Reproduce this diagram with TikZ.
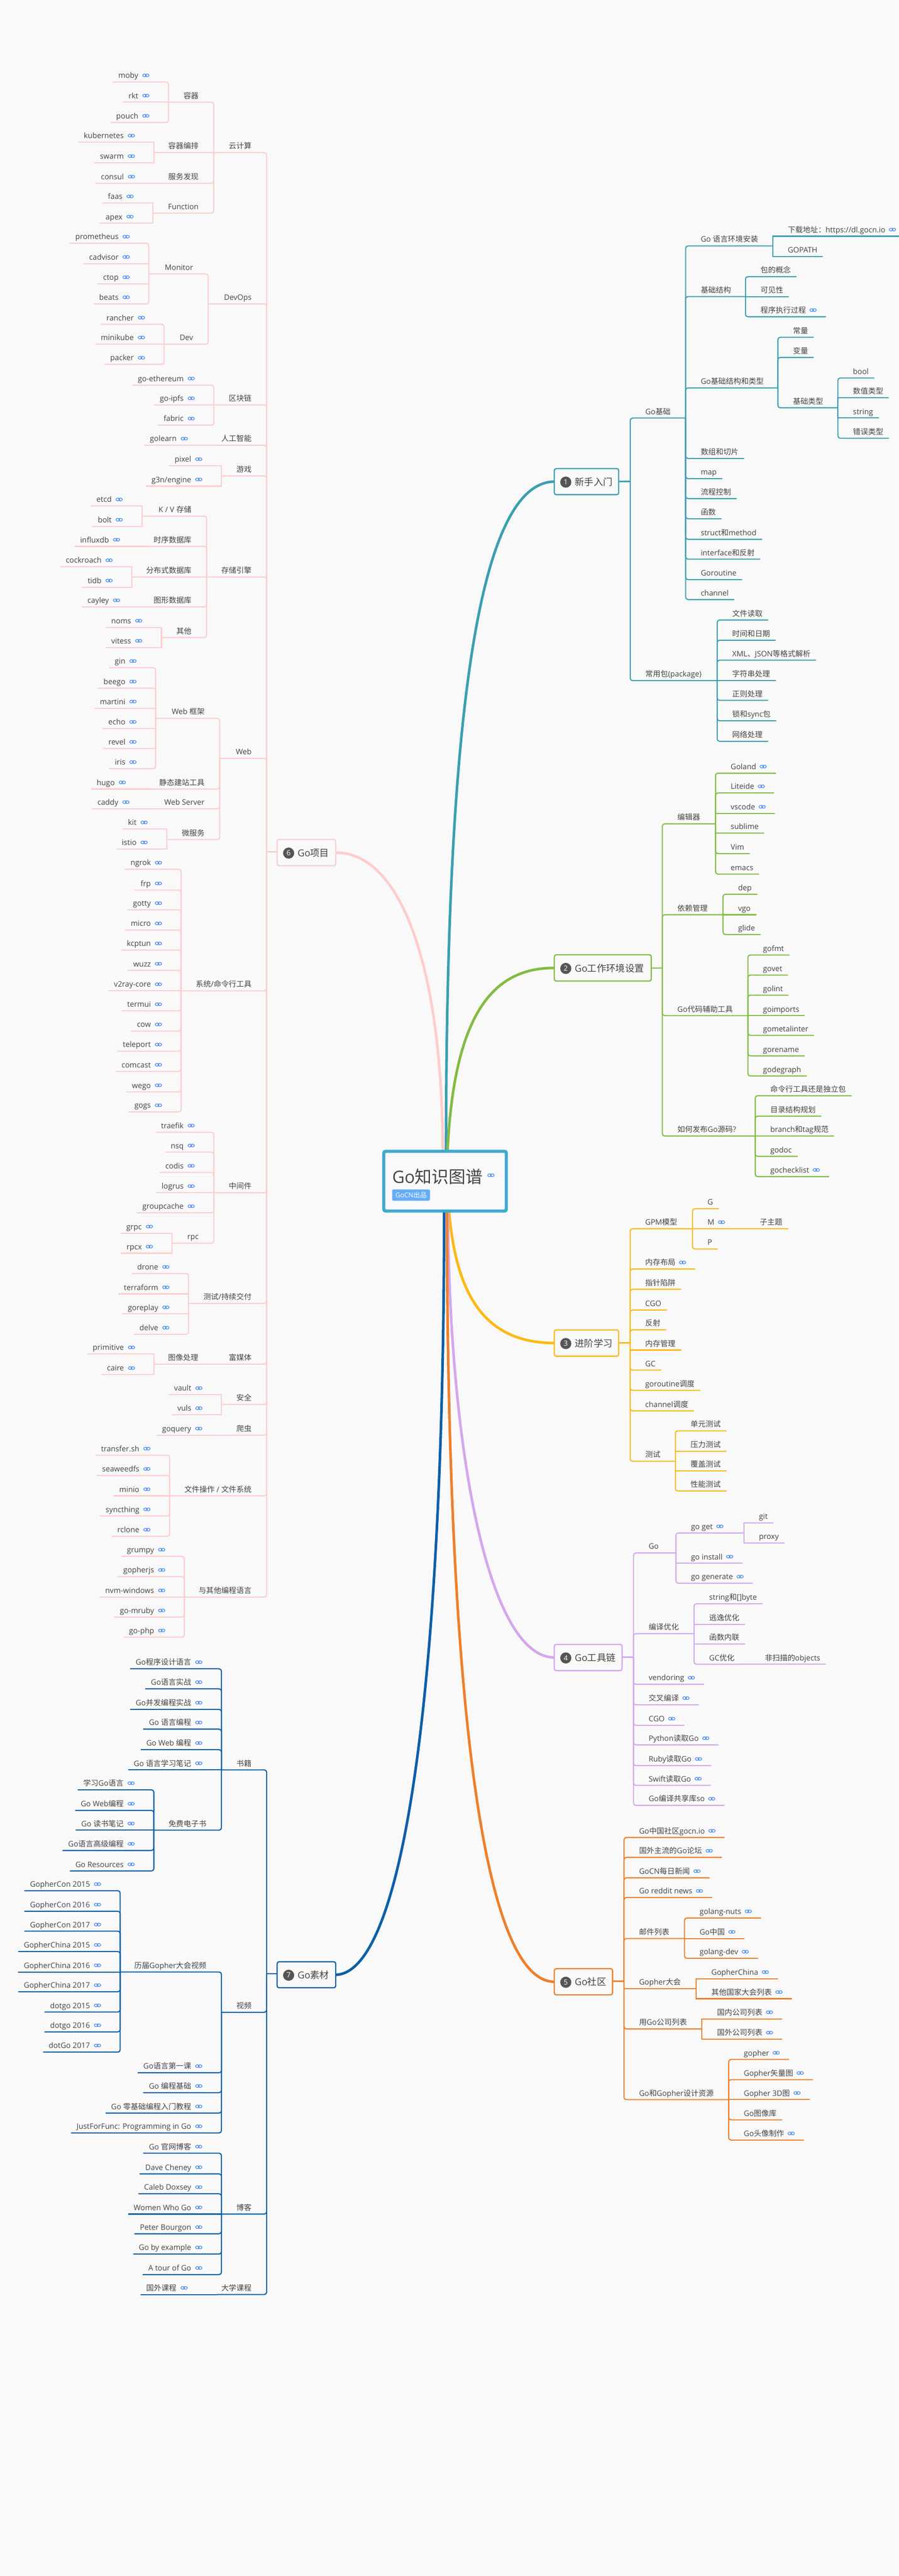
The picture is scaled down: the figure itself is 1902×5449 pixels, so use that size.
\documentclass[tikz,border=0pt]{standalone}
\usepackage{fontspec}
\usetikzlibrary{calc}
\setmainfont{Open Sans}
\newfontfamily\cjk{Noto Sans CJK SC}
\XeTeXinterchartokenstate=1
\newXeTeXintercharclass\cjkcls
\newcount\mmc
\mmc="3000 \loop\XeTeXcharclass\mmc=\cjkcls \ifnum\mmc<"9FFF \advance\mmc 1 \repeat
\mmc="FF00 \loop\XeTeXcharclass\mmc=\cjkcls \ifnum\mmc<"FFEF \advance\mmc 1 \repeat
\XeTeXinterchartoks 0 \cjkcls = {\begingroup\cjk}
\XeTeXinterchartoks 4095 \cjkcls = {\begingroup\cjk}
\XeTeXinterchartoks \cjkcls 0 = {\endgroup}
\XeTeXinterchartoks \cjkcls 4095 = {\endgroup}
\definecolor{bgc}{HTML}{F9F9F9}
\definecolor{txtc}{HTML}{444444}
\definecolor{linkc}{HTML}{3D85F5}
\definecolor{rootc}{HTML}{3FA9CE}
\definecolor{badgec}{HTML}{66ADF7}
\definecolor{numc}{HTML}{555555}
\definecolor{ca}{HTML}{3A9FB0}
\definecolor{cb}{HTML}{82BC42}
\definecolor{cc}{HTML}{FDB813}
\definecolor{cd}{HTML}{D5A6EE}
\definecolor{ce}{HTML}{EE7F2A}
\definecolor{cf}{HTML}{FFCCCC}
\definecolor{cg}{HTML}{0B5FA8}
\colorlet{tc}{ca}
\pgfdeclarelayer{bg}
\pgfsetlayers{bg,main}
\tikzset{
  lab/.style={text=txtc,inner sep=0pt,outer sep=0pt,font=\fontsize{16}{20}\selectfont},
  branch/.style={draw=tc,line width=2.3pt},
  stub/.style={draw=tc,line width=3pt},
  mainedge/.style={line width=5.5pt},
  topicbox/.style={draw=tc,fill=bgc,line width=2.5pt,rounded corners=4pt,inner sep=0pt,outer sep=0pt},
  numdot/.style={circle,fill=numc,text=white,inner sep=0pt,minimum size=23.5pt,font=\fontsize{15}{18}\selectfont},
  toptext/.style={text=txtc,inner sep=0pt,font=\fontsize{20}{24}\selectfont},
  linkloop/.style={draw=linkc,line width=1.25pt},
}
% link icon
\newcommand\Icon[2]{\draw[linkloop] (#1-2.9,#2) ellipse (3.9pt and 3pt);\draw[linkloop] (#1+2.9,#2) ellipse (3.9pt and 3pt);}
% connector
\newcommand\mmEdge[3]{%
  \pgfmathsetmacro\mmdy{abs(#3-\csname Y@#1\endcsname)}%
  \ifdim\mmdy pt<25pt \draw[branch] (#1-bus) |- (#2-end);%
  \else \draw[branch,rounded corners=5pt] (#1-bus) |- (#2-end);\fi}
\newcommand\mmR[5]{% off id parent y text
  \pgfmathsetmacro\mmx{\csname X@#3\endcsname+#1}\pgfmathsetmacro\mmy{#4-8}%
  \node[lab,anchor=base west] (#2) at (\mmx,\mmy) {#5};%
  \expandafter\xdef\csname Y@#2\endcsname{#4}}
\newcommand\mmB[3]{\coordinate (#1-bus) at (#3,#2);\coordinate (#1-end) at (#3,#2);\expandafter\xdef\csname X@#1\endcsname{#3}}
% right: branch, branch+link, leaf, leaf+link
\newcommand\Rb[6][32]{\mmR{#1}{#2}{#3}{#4}{#6}\mmB{#2}{#4}{#5}\mmEdge{#3}{#2}{#4}}
\newcommand\Rbk[6][32]{\mmR{#1}{#2}{#3}{#4}{#6}\mmB{#2}{#4}{#5}\mmEdge{#3}{#2}{#4}%
  \path let \p1=(#2.base east) in \pgfextra{\pgfmathsetmacro\mmx{\x1/1pt+15}\pgfmathsetmacro\mmy{#4-14}};\mmIconR{#2}{#4}}
\newcommand\mmIconR[2]{\coordinate (#1-ic) at ($(#1.base east)+(15,0)$);%
  \path let \p1=(#1-ic) in \pgfextra{\pgfmathsetmacro\mmx{\x1/1pt}\pgfmathsetmacro\mmy{#2-14}\global\let\mmgx\mmx\global\let\mmgy\mmy};\Icon{\mmgx}{\mmgy}}
\newcommand\Rl[5][32]{\mmR{#1}{#2}{#3}{#4}{#5}\coordinate (#2-end) at ($(#2.base east)+(12,8)$);\mmEdge{#3}{#2}{#4}}
\newcommand\Rk[5][32]{\mmR{#1}{#2}{#3}{#4}{#5}\coordinate (#2-end) at ($(#2.base east)+(42,8)$);\mmEdge{#3}{#2}{#4}\mmIconR{#2}{#4}}
% left: branch, leaf+link
\newcommand\Lb[6][32]{\pgfmathsetmacro\mmx{\csname X@#3\endcsname-#1}\pgfmathsetmacro\mmy{#4-8}%
  \node[lab,anchor=base east] (#2) at (\mmx,\mmy) {#6};\expandafter\xdef\csname Y@#2\endcsname{#4}%
  \mmB{#2}{#4}{#5}\mmEdge{#3}{#2}{#4}}
\newcommand\Lk[5][32]{\pgfmathsetmacro\mmx{\csname X@#3\endcsname-#1-32}\pgfmathsetmacro\mmy{#4-8}%
  \node[lab,anchor=base east] (#2) at (\mmx,\mmy) {#5};\expandafter\xdef\csname Y@#2\endcsname{#4}%
  \coordinate (#2-end) at ($(#2.base west)+(-12,8)$);\mmEdge{#3}{#2}{#4}%
  \pgfmathsetmacro\mmx{\csname X@#3\endcsname-#1-16}\pgfmathsetmacro\mmy{#4-14}\Icon{\mmx}{\mmy}}
% topic
\newcommand\Topic[7]{% id x1 y1 x2 y2 n text
  \pgfmathsetmacro\mmw{#4-#2-2.5}\pgfmathsetmacro\mmh{#5-#3-2.5}%
  \pgfmathsetmacro\mmx{(#2+#4)/2}\pgfmathsetmacro\mmy{(#3+#5)/2}%
  \node[topicbox,minimum width=\mmw pt,minimum height=\mmh pt] (#1) at (\mmx,\mmy) {};%
  \pgfmathsetmacro\mma{#2+25.5}\pgfmathsetmacro\mmb{\mmy+1}%
  \node[numdot] (#1-num) at (\mma,\mmb) {#6};%
  \pgfmathsetmacro\mma{#2+44.5}\pgfmathsetmacro\mmb{\mmy+8}%
  \node[toptext,anchor=base west] (#1-txt) at (\mma,\mmb) {#7};}
\newcommand\TopicBus[4]{% id side bus y
  \coordinate (#1-bus) at (#3,#4);\expandafter\xdef\csname X@#1\endcsname{#3}\expandafter\xdef\csname Y@#1\endcsname{#4}%
  \draw[stub] (#1.#2 |- #1-bus) -- (#1-bus);}
\begin{document}
\begin{tikzpicture}[x=1pt,y=-1pt]
\useasboundingbox (0,0) rectangle (1902,5449);
% root
\node[draw=rootc,fill=bgc,line width=6.7pt,rounded corners=4pt,minimum width=259.4pt,minimum height=126.4pt,inner sep=0pt] (root) at (942,2498.5) {};
\node[inner sep=0pt,anchor=base west,text=txtc,font=\fontsize{36}{42}\selectfont] (roottxt) at (830,2503) {Go知识图谱};
\Icon{1039}{2486}
\node[fill=badgec,rounded corners=3pt,text=white,inner sep=0pt,minimum width=80pt,minimum height=24pt,font=\fontsize{14}{17}\selectfont] (badge) at (870,2528) {GoCN出品};
% ---- 1
\colorlet{tc}{ca}
\Topic{ta}{1172}{990}{1310.7}{1047.6}{1}{新手入门}
\TopicBus{ta}{east}{1334}{1018}
\Rb{a1}{ta}{884.3}{1451.2}{Go基础}
\Rb{a11}{a1}{520.2}{1635.4}{Go 语言环境安装}
\Rk{a111}{a11}{499.7}{下载地址：https://dl.gocn.io}
\Rl{a112}{a11}{542.5}{GOPATH}
\Rb{a12}{a1}{627.3}{1577.8}{基础结构}
\Rl{a121}{a12}{585.2}{包的概念}
\Rl{a122}{a12}{627.3}{可见性}
\Rk{a123}{a12}{670}{程序执行过程}
\Rb{a13}{a1}{820.5}{1646.4}{Go基础结构和类型}
\Rl{a131}{a13}{713.4}{常量}
\Rl{a132}{a13}{756.1}{变量}
\Rb{a133}{a13}{862.6}{1773.5}{基础类型}
\Rl{a1331}{a133}{799.5}{bool}
\Rl{a1332}{a133}{841.6}{数值类型}
\Rl{a1333}{a133}{884.3}{string}
\Rl{a1334}{a133}{927}{错误类型}
\Rl{a14}{a1}{969.8}{数组和切片}
\Rl{a15}{a1}{1012.5}{map}
\Rl{a16}{a1}{1054.6}{流程控制}
\Rl{a17}{a1}{1097.3}{函数}
\Rl{a18}{a1}{1140.7}{struct和method}
\Rl{a19}{a1}{1182.8}{interface和反射}
\Rl{a1a}{a1}{1226.1}{Goroutine}
\Rl{a1b}{a1}{1268.2}{channel}
\Rb{a2}{ta}{1439.8}{1517.9}{常用包(package)}
\Rl{a21}{a2}{1311.6}{文件读取}
\Rl{a22}{a2}{1354.3}{时间和日期}
\Rl{a23}{a2}{1396.4}{XML、JSON等格式解析}
\Rl{a24}{a2}{1439.8}{字符串处理}
\Rl{a25}{a2}{1481.4}{正则处理}
\Rl{a26}{a2}{1524.7}{锁和sync包}
\Rl{a27}{a2}{1568}{网络处理}
% ---- 2
\colorlet{tc}{cb}
\Topic{tb}{1172}{2018.5}{1379.7}{2076.5}{2}{Go工作环境设置}
\TopicBus{tb}{east}{1401.8}{2047.8}
\Rb{b1}{tb}{1742.6}{1514.5}{编辑器}
\Rk{b11}{b1}{1635.5}{Goland}
\Rk{b12}{b1}{1677.3}{Liteide}
\Rk{b13}{b1}{1720.6}{vscode}
\Rl{b14}{b1}{1762.4}{sublime}
\Rl{b15}{b1}{1805.7}{Vim}
\Rl{b16}{b1}{1849}{emacs}
\Rb{b2}{tb}{1934.9}{1530.3}{依赖管理}
\Rl{b21}{b2}{1891.6}{dep}
\Rl{b22}{b2}{1934.9}{vgo}
\Rl{b23}{b2}{1976.7}{glide}
\Rb{b3}{tb}{2148.4}{1583}{Go代码辅助工具}
\Rl{b31}{b3}{2020}{gofmt}
\Rl{b32}{b3}{2062.5}{govet}
\Rl{b33}{b3}{2105}{golint}
\Rl{b34}{b3}{2148.4}{goimports}
\Rl{b35}{b3}{2190}{gometalinter}
\Rl{b36}{b3}{2233.5}{gorename}
\Rl{b37}{b3}{2276}{godegraph}
\Rb{b4}{tb}{2403}{1598.4}{如何发布Go源码?}
\Rl{b41}{b4}{2317.8}{命令行工具还是独立包}
\Rl{b42}{b4}{2361}{目录结构规划}
\Rl{b43}{b4}{2403}{branch和tag规范}
\Rl{b44}{b4}{2446}{godoc}
\Rk{b45}{b4}{2488.8}{gochecklist}
% ---- 3
\colorlet{tc}{cc}
\Topic{tcc}{1172}{2812}{1310.7}{2870}{3}{进阶学习}
\TopicBus{tcc}{east}{1333.7}{2840.5}
\Rb{c1}{tcc}{2599.2}{1465.6}{GPM模型}
\Rl{c11}{c1}{2556.8}{G}
\Rb{c12}{c1}{2599.2}{1556}{M}\mmIconR{c12}{2599.2}
\Rl[52]{c121}{c12}{2599.2}{子主题}
\Rl{c13}{c1}{2642}{P}
\Rk{c2}{tcc}{2684.4}{内存布局}
\Rl{c3}{tcc}{2727.2}{指针陷阱}
\Rl{c4}{tcc}{2771.1}{CGO}
\Rl{c5}{tcc}{2813}{反射}
\Rl{c6}{tcc}{2855.8}{内存管理}
\Rl{c7}{tcc}{2898.2}{GC}
\Rl{c8}{tcc}{2941}{goroutine调度}
\Rl{c9}{tcc}{2984.4}{channel调度}
\Rb{ca1}{tcc}{3091}{1429.6}{测试}
\Rl{ca11}{ca1}{3026.7}{单元测试}
\Rl{ca12}{ca1}{3070}{压力测试}
\Rl{ca13}{ca1}{3111.4}{覆盖测试}
\Rl{ca14}{ca1}{3153.8}{性能测试}
% ---- 4
\colorlet{tc}{cd}
\Topic{td}{1172}{3477}{1317.9}{3535}{4}{Go工具链}
\TopicBus{td}{east}{1340.9}{3505}
\Rb{d1}{td}{3284.9}{1430.6}{Go}
\Rb{d11}{d1}{3242.6}{1574.5}{go get}\mmIconR{d11}{3242.6}
\Rl{d111}{d11}{3221.6}{git}
\Rl{d112}{d11}{3264}{proxy}
\Rk{d12}{d1}{3306.8}{go install}
\Rk{d13}{d1}{3349}{go generate}
\Rb{d2}{td}{3455.6}{1469}{编译优化}
\Rl{d21}{d2}{3392.3}{string和[]byte}
\Rl{d22}{d2}{3435.7}{逃逸优化}
\Rl{d23}{d2}{3477.6}{函数内联}
\Rb{d24}{d2}{3520.4}{1564.9}{GC优化}
\Rl[54]{d241}{d24}{3520.4}{非扫描的objects}
\Rk{d3}{td}{3562.8}{vendoring}
\Rk{d4}{td}{3606}{交叉编译}
\Rk{d5}{td}{3649.5}{CGO}
\Rk{d6}{td}{3690.8}{Python读取Go}
\Rk{d7}{td}{3734.7}{Ruby读取Go}
\Rk{d8}{td}{3776.5}{Swift读取Go}
\Rk{d9}{td}{3818.9}{Go编译共享库so}
% ---- 5
\colorlet{tc}{ce}
\Topic{te}{1172}{4163}{1297.7}{4221}{5}{Go社区}
\TopicBus{te}{east}{1320.7}{4191}
\Rk{e1}{te}{3886.7}{Go中国社区gocn.io}
\Rk{e2}{te}{3929}{国外主流的Go论坛}
\Rk{e3}{te}{3972}{GoCN每日新闻}
\Rk{e4}{te}{4013.8}{Go reddit news}
\Rb{e5}{te}{4100.5}{1448.8}{邮件列表}
\Rk{e51}{e5}{4057}{golang-nuts}
\Rk{e52}{e5}{4100.5}{Go中国}
\Rk{e53}{e5}{4142.4}{golang-dev}
\Rb{e6}{te}{4206.9}{1473.7}{Gopher大会}
\Rk{e61}{e6}{4185.5}{GopherChina}
\Rk{e62}{e6}{4227.8}{其他国家大会列表}
\Rb{e7}{te}{4291.9}{1485.7}{用Go公司列表}
\Rk{e71}{e7}{4270.5}{国内公司列表}
\Rk{e72}{e7}{4313.6}{国外公司列表}
\Rb{e8}{te}{4441.3}{1542.3}{Go和Gopher设计资源}
\Rk{e81}{e8}{4356.3}{gopher}
\Rk{e82}{e8}{4399}{Gopher矢量图}
\Rk{e83}{e8}{4441.3}{Gopher 3D图}
\Rl{e84}{e8}{4484}{Go图像库}
\Rk{e85}{e8}{4526.8}{Go头像制作}
% ---- 6
\colorlet{tc}{cf}
\Topic{tf}{585.4}{1774.5}{711.7}{1832.6}{6}{Go项目}
\TopicBus{tf}{west}{564.4}{1802}
\Lb{f1}{tf}{322.9}{452.3}{云计算}
\Lb{f11}{f1}{216.2}{356.7}{容器}
\Lk{f111}{f11}{173.4}{moby}
\Lk{f112}{f11}{216.2}{rkt}
\Lk{f113}{f11}{259.1}{pouch}
\Lb{f12}{f1}{322.9}{326}{容器编排}
\Lk{f121}{f12}{300.9}{kubernetes}
\Lk{f122}{f12}{344.3}{swarm}
\Lb{f13}{f1}{387.7}{348.3}{服务发现}
\Lk[54]{f131}{f13}{387.7}{consul}
\Lb{f14}{f1}{450.9}{323.3}{Function}
\Lk{f141}{f14}{429.5}{faas}
\Lk{f142}{f14}{472.3}{apex}
\Lb{f2}{tf}{642.8}{440.7}{DevOps}
\Lb{f21}{f2}{579.5}{315}{Monitor}
\Lk{f211}{f21}{514.7}{prometheus}
\Lk{f212}{f21}{557.6}{cadvisor}
\Lk{f213}{f21}{600.4}{ctop}
\Lk{f214}{f21}{642.8}{beats}
\Lb{f22}{f2}{728}{347.3}{Dev}
\Lk{f221}{f22}{686}{rancher}
\Lk{f222}{f22}{728}{minikube}
\Lk{f223}{f22}{770.8}{packer}
\Lb{f3}{tf}{856.5}{452.7}{区块链}
\Lk{f31}{f3}{814.7}{go-ethereum}
\Lk{f32}{f3}{856.5}{go-ipfs}
\Lk{f33}{f3}{899.4}{fabric}
\Lb{f4}{tf}{941.9}{460}{人工智能}
\Lk[54]{f41}{f4}{941.9}{golearn}
\Lb{f5}{tf}{1006.7}{468.7}{游戏}
\Lk{f51}{f5}{985.3}{pixel}
\Lk{f52}{f5}{1028.2}{g3n/engine}
\Lb{f6}{tf}{1220.5}{437.3}{存储引擎}
\Lb{f61}{f6}{1092}{300.3}{K / V 存储}
\Lk{f611}{f61}{1070.5}{etcd}
\Lk{f612}{f61}{1113.4}{bolt}
\Lb{f62}{f6}{1155.7}{316.6}{时序数据库}
\Lk[54]{f621}{f62}{1155.7}{influxdb}
\Lb{f63}{f6}{1220.5}{278.9}{分布式数据库}
\Lk{f631}{f63}{1199}{cockroach}
\Lk{f632}{f63}{1242}{tidb}
\Lb{f64}{f6}{1283.8}{316.6}{图形数据库}
\Lk[54]{f641}{f64}{1283.8}{cayley}
\Lb{f65}{f6}{1348.6}{341.6}{其他}
\Lk{f651}{f65}{1327}{noms}
\Lk{f652}{f65}{1369.5}{vitess}
\Lb{f7}{tf}{1604.2}{464.9}{Web}
\Lb{f71}{f7}{1519.5}{329.4}{Web 框架}
\Lk{f711}{f71}{1412.3}{gin}
\Lk{f712}{f71}{1455.7}{beego}
\Lk{f713}{f71}{1498}{martini}
\Lk{f714}{f71}{1541}{echo}
\Lk{f715}{f71}{1583.3}{revel}
\Lk{f716}{f71}{1626}{iris}
\Lb{f72}{f7}{1669}{328.9}{静态建站工具}
\Lk[54]{f721}{f72}{1669}{hugo}
\Lb{f73}{f7}{1710.8}{336.5}{Web Server}
\Lk[54]{f731}{f73}{1710.8}{caddy}
\Lb{f74}{f7}{1776}{353}{微服务}
\Lk{f741}{f74}{1753.6}{kit}
\Lk{f742}{f74}{1796}{istio}
\Lb{f8}{tf}{2096}{383.3}{系统/命令行工具}
\Lk{f81}{f8}{1838.8}{ngrok}
\Lk{f82}{f8}{1882.7}{frp}
\Lk{f83}{f8}{1924.5}{gotty}
\Lk{f84}{f8}{1967.3}{micro}
\Lk{f85}{f8}{2009.7}{kcptun}
\Lk{f86}{f8}{2052.6}{wuzz}
\Lk{f87}{f8}{2096}{v2ray-core}
\Lk{f88}{f8}{2138.3}{termui}
\Lk{f89}{f8}{2181}{cow}
\Lk{f8a}{f8}{2223.5}{teleport}
\Lk{f8b}{f8}{2266.3}{comcast}
\Lk{f8c}{f8}{2309.7}{wego}
\Lk{f8d}{f8}{2352}{gogs}
\Lb{f9}{tf}{2523}{452.6}{中间件}
\Lk{f91}{f9}{2394.9}{traefik}
\Lk{f92}{f9}{2437.2}{nsq}
\Lk{f93}{f9}{2480}{codis}
\Lk{f94}{f9}{2523}{logrus}
\Lk{f95}{f9}{2565.5}{groupcache}
\Lb{f96}{f9}{2629.7}{364.2}{rpc}
\Lk{f961}{f96}{2608.5}{grpc}
\Lk{f962}{f96}{2650.9}{rpcx}
\Lb{fa}{tf}{2757}{399}{测试/持续交付}
\Lk{fa1}{fa}{2693.9}{drone}
\Lk{fa2}{fa}{2737}{terraform}
\Lk{fa3}{fa}{2779.4}{goreplay}
\Lk{fa4}{fa}{2822.4}{delve}
\Lb{fb}{tf}{2885.5}{471.7}{富媒体}
\Lb[52]{fb1}{fb}{2885.5}{326.3}{图像处理}
\Lk{fb11}{fb1}{2864.2}{primitive}
\Lk{fb12}{fb1}{2907.9}{caire}
\Lb{fc}{tf}{2970.9}{469}{安全}
\Lk{fc1}{fc}{2950.3}{vault}
\Lk{fc2}{fc}{2992.7}{vuls}
\Lb{fd}{tf}{3035.8}{490.7}{爬虫}
\Lk[54]{fd1}{fd}{3035.8}{goquery}
\Lb{fe}{tf}{3164.2}{358.9}{文件操作 / 文件系统}
\Lk{fe1}{fe}{3078.2}{transfer.sh}
\Lk{fe2}{fe}{3121.2}{seaweedfs}
\Lk{fe3}{fe}{3164.2}{minio}
\Lk{fe4}{fe}{3206.7}{syncthing}
\Lk{fe5}{fe}{3249.7}{rclone}
\Lb{ff}{tf}{3378.2}{390.2}{与其他编程语言}
\Lk{ff1}{ff}{3292}{grumpy}
\Lk{ff2}{ff}{3335}{gopherjs}
\Lk{ff3}{ff}{3378.2}{nvm-windows}
\Lk{ff4}{ff}{3420.6}{go-mruby}
\Lk{ff5}{ff}{3463}{go-php}
% ---- 7
\colorlet{tc}{cg}
\Topic{tg}{585.4}{4148.4}{711.7}{4206}{7}{Go素材}
\TopicBus{tg}{west}{564.4}{4175}
\Lb{g1}{tg}{3743.8}{468.7}{书籍}
\Lk{g11}{g1}{3530}{Go程序设计语言}
\Lk{g12}{g1}{3572.3}{Go语言实战}
\Lk{g13}{g1}{3615.7}{Go并发编程实战}
\Lk{g14}{g1}{3657.6}{Go 语言编程}
\Lk{g15}{g1}{3701}{Go Web 编程}
\Lk{g16}{g1}{3743.8}{Go 语言学习笔记}
\Lb{g17}{g1}{3871.3}{325.6}{免费电子书}
\Lk{g171}{g17}{3786}{学习Go语言}
\Lk{g172}{g17}{3829.5}{Go Web编程}
\Lk{g173}{g17}{3871.3}{Go 读书笔记}
\Lk{g174}{g17}{3914.2}{Go语言高级编程}
\Lk{g175}{g17}{3957.6}{Go Resources}
\Lb{g2}{tg}{4256.5}{468.7}{视频}
\Lb{g21}{g2}{4171.3}{254.4}{历届Gopher大会视频}
\Lk{g211}{g21}{3999.4}{GopherCon 2015}
\Lk{g212}{g21}{4042.8}{GopherCon 2016}
\Lk{g213}{g21}{4085}{GopherCon 2017}
\Lk{g214}{g21}{4128}{GopherChina 2015}
\Lk{g215}{g21}{4171.3}{GopherChina 2016}
\Lk{g216}{g21}{4213.2}{GopherChina 2017}
\Lk{g217}{g21}{4256}{dotgo 2015}
\Lk{g218}{g21}{4298}{dotgo 2016}
\Lk{g219}{g21}{4340.8}{dotGo 2017}
\Lk{g22}{g2}{4384.5}{Go语言第一课}
\Lk{g23}{g2}{4426.5}{Go 编程基础}
\Lk{g24}{g2}{4469.8}{Go 零基础编程入门教程}
\Lk{g25}{g2}{4511.8}{JustForFunc: Programming in Go}
\Lb{g3}{tg}{4683.3}{468.7}{博客}
\Lk{g31}{g3}{4554.7}{Go 官网博客}
\Lk{g32}{g3}{4598.4}{Dave Cheney}
\Lk{g33}{g3}{4640.4}{Caleb Doxsey}
\Lk{g34}{g3}{4683.3}{Women Who Go}
\Lk{g35}{g3}{4725}{Peter Bourgon}
\Lk{g36}{g3}{4768}{Go by example}
\Lk{g37}{g3}{4811.4}{A tour of Go}
\Lb{g4}{tg}{4853.5}{459.7}{大学课程}
\Lk[54]{g41}{g4}{4853.5}{国外课程}
% main curves and background
\begin{pgfonlayer}{bg}
\fill[bgc] (0,0) rectangle (1902,5449);
\coordinate (ra) at (944,2440);
\coordinate (rb) at (947,2440);
\coordinate (rc) at (950,2555);
\coordinate (rd) at (948,2555);
\coordinate (re) at (946,2555);
\coordinate (rf) at (937,2440);
\coordinate (rg) at (940,2555);
\draw[mainedge,cf] (rf) .. controls (937,2050) and (850,1803) .. (tf.west -| tf.east);
\draw[mainedge,ca] (ra) .. controls (944,1600) and (1000,1020) .. (ta.west);
\draw[mainedge,cb] (rb) .. controls (960,2150) and (1040,2047) .. (tb.west);
\draw[mainedge,cc] (rc) .. controls (965,2760) and (1040,2840) .. (tcc.west);
\draw[mainedge,cd] (rd) .. controls (950,3050) and (1030,3505) .. (td.west);
\draw[mainedge,ce] (re) .. controls (946,3500) and (1010,4191) .. (te.west);
\draw[mainedge,cg] (rg) .. controls (940,3600) and (850,4175) .. (tg.east);
\end{pgfonlayer}
\end{tikzpicture}
\end{document}
